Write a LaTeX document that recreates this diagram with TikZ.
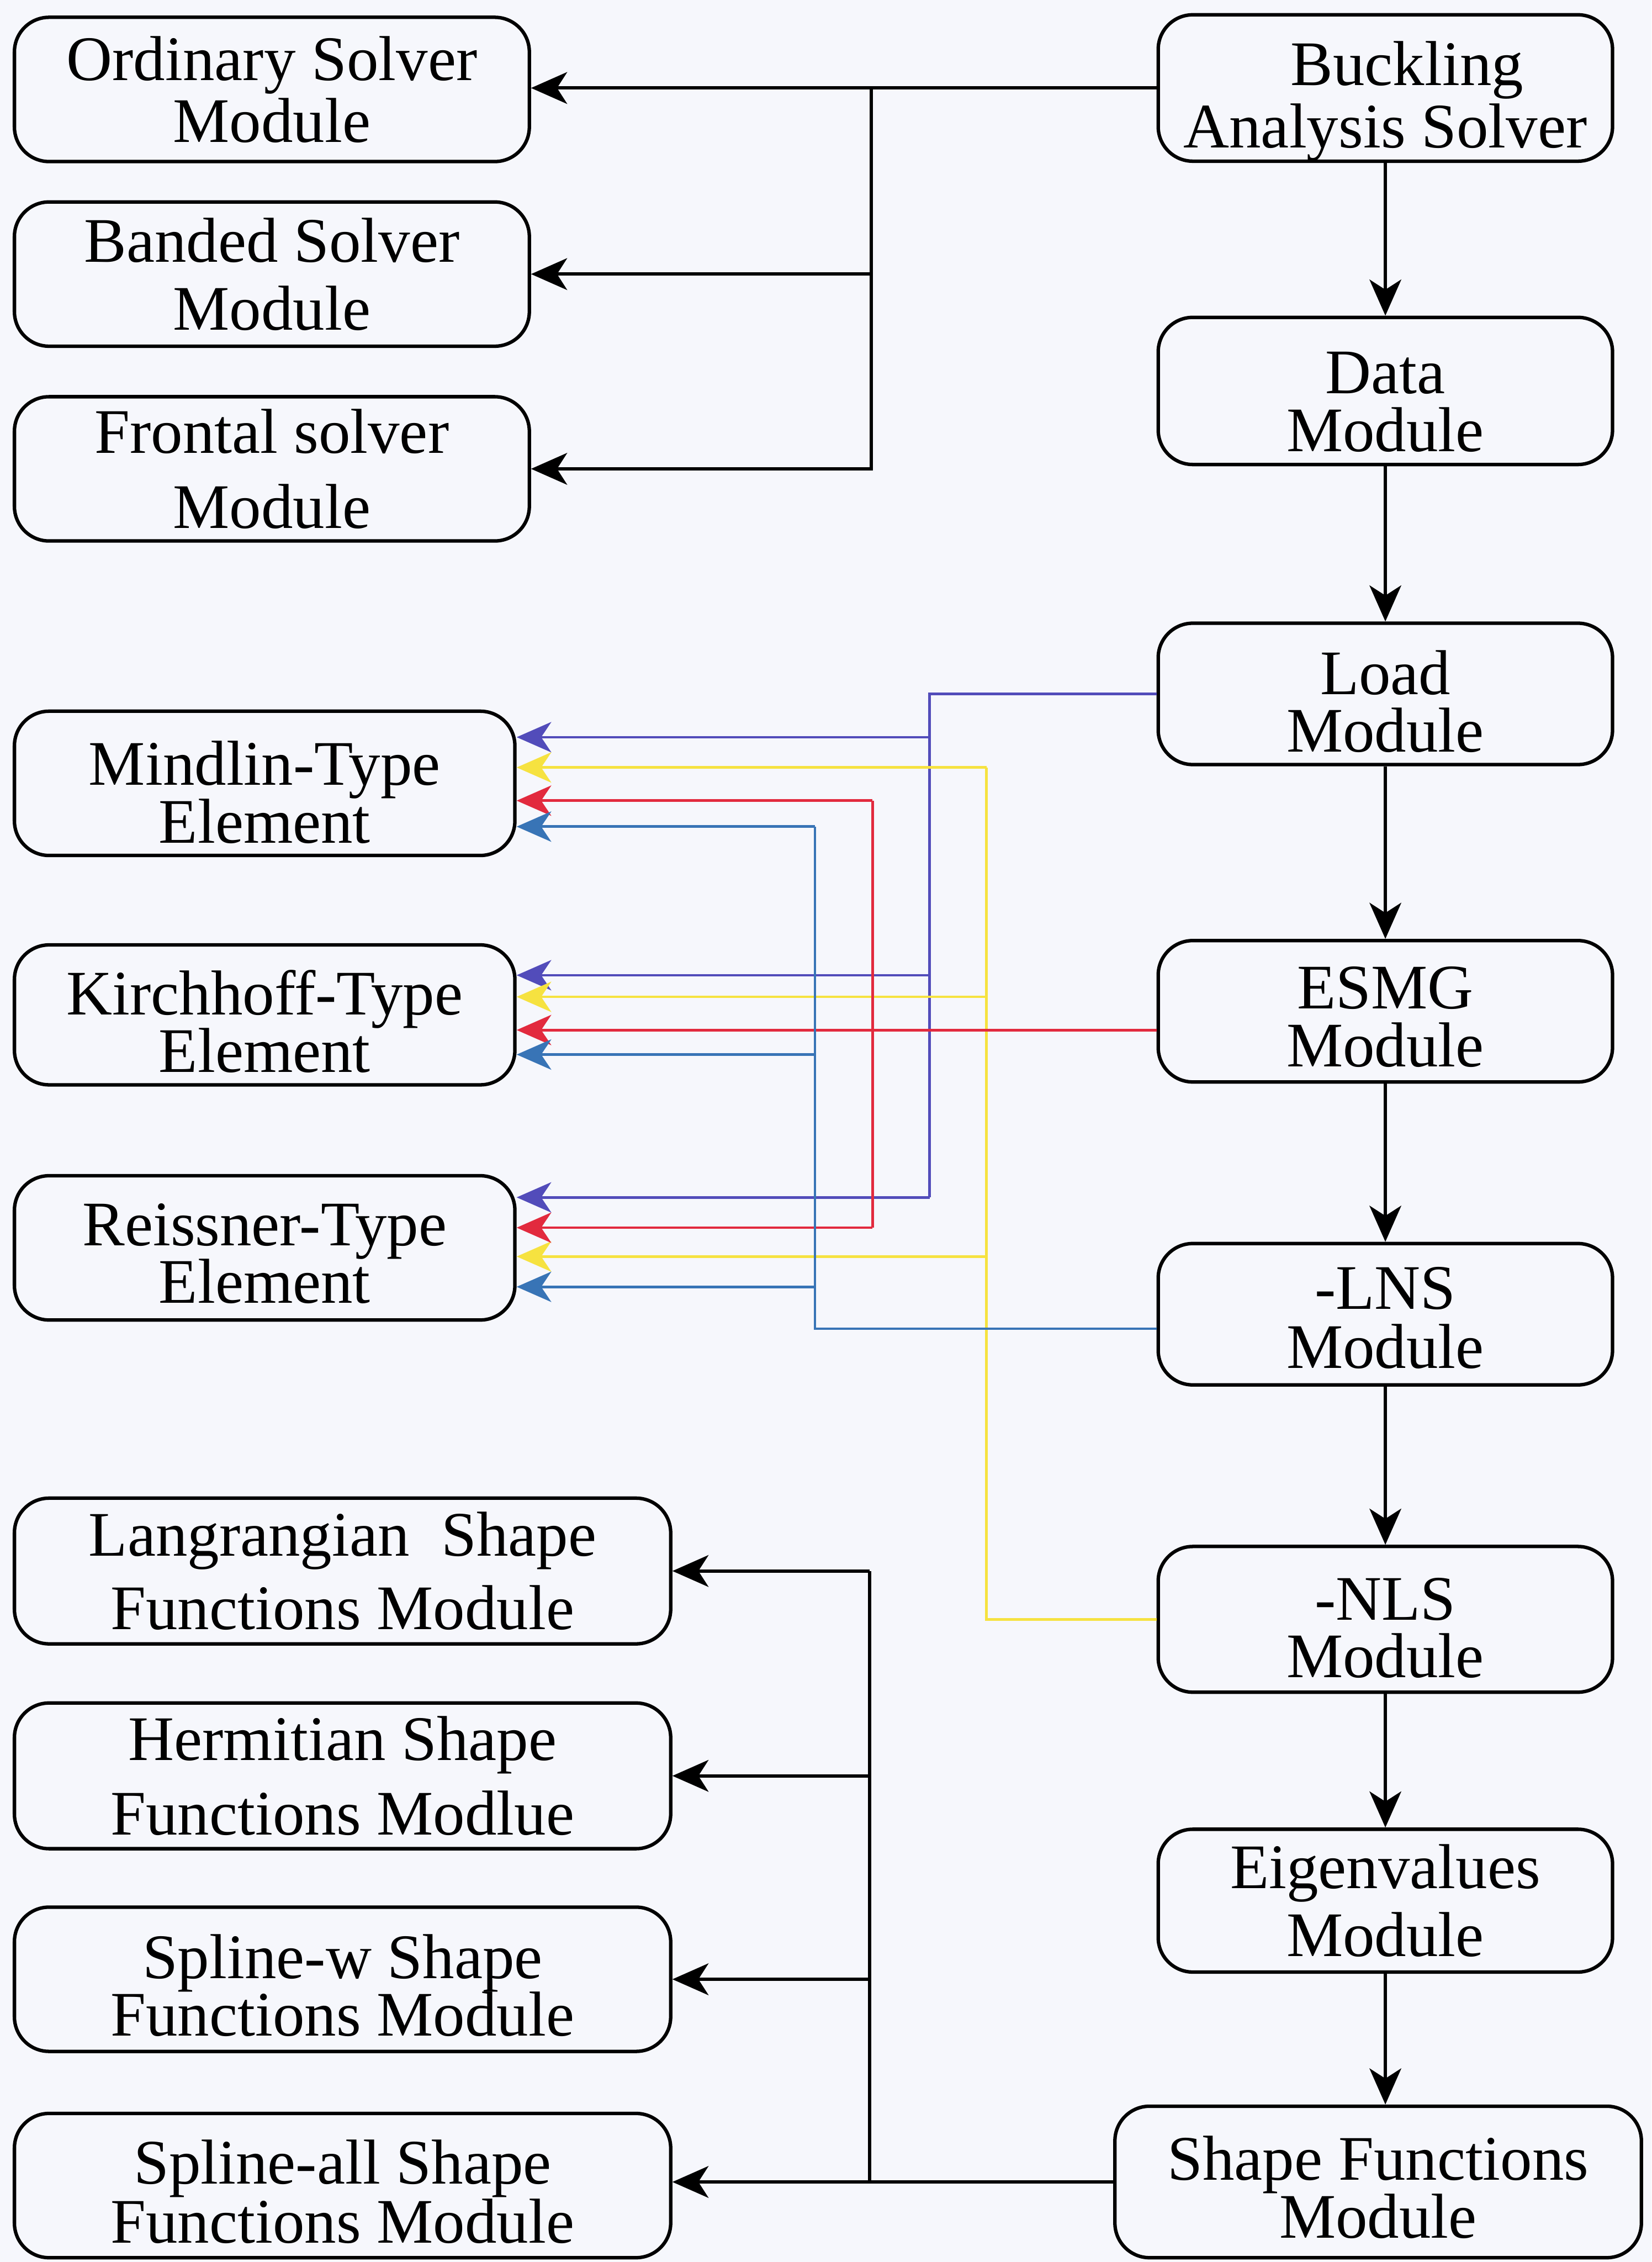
\documentclass[tikz,border=0pt]{standalone}
\usepackage{fontspec}
\setmainfont{Liberation Serif}
\usetikzlibrary{arrows.meta,calc}
\definecolor{bg}{RGB}{246,247,252}
\definecolor{cvio}{RGB}{82,76,186}
\definecolor{cyel}{RGB}{246,226,64}
\definecolor{cred}{RGB}{226,42,62}
\definecolor{cstl}{RGB}{56,116,182}
\begin{document}
\begin{tikzpicture}[x=1pt,y=-1pt,
  box/.style={draw, rounded corners=24pt, line width=2.4pt, inner sep=0pt, align=center,
    font=\fontsize{44}{43}\selectfont},
  lbox/.style={box, minimum width=357pt, minimum height=100pt},
  ebox/.style={box, minimum width=347pt, minimum height=100pt},
  sbox/.style={box, minimum width=455pt, minimum height=101pt},
  rbox/.style={box, minimum width=315pt, minimum height=99pt},
  tip/.style={-{Stealth[length=25pt,width=22pt,inset=7pt]}},
  conn/.style={line width=2.2pt, black},
  carr/.style={conn, tip},
  col/.style={line width=1.8pt, draw=#1, -{Stealth[length=24pt,width=21pt,inset=7pt,fill=#1]}},
  colline/.style={line width=1.8pt, draw=#1}
]
\fill[bg] (0,0) rectangle (1145,1568);
\useasboundingbox (0,0) rectangle (1145,1568);

% left column
\node[lbox] (ord)   at (188.5,62)  {Ordinary Solver\\Module};
\node[lbox] (band)  at (188.5,190) {Banded Solver\\[4pt]Module};
\node[lbox] (front) at (188.5,325) {Frontal solver\\[9pt]Module};
\node[ebox, text height=83pt] (mind)  at (183.5,543) {Mindlin-Type\\[-3pt]Element};
\node[ebox, minimum height=97pt, text height=80pt] (kir) at (183.5,703.5) {Kirchhoff-Type\\[-3pt]Element};
\node[ebox, text height=77pt] (reis)  at (183.5,865) {Reissner-Type\\[-3pt]Element};
\node[sbox] (lang)  at (237.5,1089) {Langrangian\ \ Shape\\[8pt]Functions Module};
\node[sbox] (herm)  at (237.5,1231) {Hermitian Shape\\[9pt]Functions Modlue};
\node[sbox, minimum height=100pt, text height=79pt] (splw) at (237.5,1372) {Spline-w Shape\\[-3pt]Functions Module};
\node[sbox, minimum height=100pt, text height=80pt] (spla) at (237.5,1515) {Spline-all Shape\\[-2pt]Functions Module};

% right column
\node[rbox, minimum height=98pt, text height=92pt] (buck) at (960.5,61) {\hspace*{30pt}Buckling\\Analysis Solver};
\node[rbox, minimum height=102pt, text height=84pt] (data) at (960.5,271) {Data\\[-3pt]Module};
\node[rbox, minimum height=98pt, text height=81pt] (load) at (960.5,481) {Load\\[-3pt]Module};
\node[rbox, minimum height=98pt, text height=77pt] (esmg) at (960.5,701) {ESMG\\[-3pt]Module};
\node[rbox, minimum height=98pt, text height=75pt] (lns)  at (960.5,911) {-LNS\\[-2pt]Module};
\node[rbox, minimum height=101pt, text height=81pt] (nls) at (960.5,1122.5) {-NLS\\[-3pt]Module};
\node[rbox] (eig)  at (960.5,1317.5) {Eigenvalues\\[4pt]Module};
\node[box, minimum width=365pt, minimum height=105pt, text height=78pt] (shp) at (955.5,1512.5) {Shape Functions\\[-3pt]Module};

% main chain
\draw[carr] (buck) -- (data);
\draw[carr] (data) -- (load);
\draw[carr] (load) -- (esmg);
\draw[carr] (esmg) -- (lns);
\draw[carr] (lns) -- (nls);
\draw[carr] (nls) -- (eig);
\draw[carr] (eig.south) -- (eig.south |- shp.north);

% solver branch
\coordinate (jS) at (604,0);
\draw[carr] (buck.west) -| (jS |- front.east) -- (front.east);
\draw[carr] (jS |- buck.west) -- (buck.west -| ord.east);
\draw[carr] (jS |- band.east) -- (band.east);

% shape function branch
\coordinate (jF) at (603,0);
\draw[carr] (shp.west) -- (shp.west -| spla.east);
\draw[conn] (jF |- shp.west) -- (jF |- lang.east);
\draw[carr] (jF |- lang.east) -- (lang.east);
\draw[carr] (jF |- herm.east) -- (herm.east);
\draw[carr] (jF |- splw.east) -- (splw.east);

% target points on element boxes
\coordinate (mV) at ($(mind.east)+(0,-32)$);
\coordinate (mY) at ($(mind.east)+(0,-11)$);
\coordinate (mR) at ($(mind.east)+(0,12)$);
\coordinate (mB) at ($(mind.east)+(0,30)$);
\coordinate (kV) at ($(kir.east)+(0,-27.5)$);
\coordinate (kY) at ($(kir.east)+(0,-12.5)$);
\coordinate (kB) at ($(kir.east)+(0,27.5)$);
\coordinate (rV) at ($(reis.east)+(0,-35)$);
\coordinate (rR) at ($(reis.east)+(0,-14)$);
\coordinate (rY) at ($(reis.east)+(0,6)$);
\coordinate (rB) at ($(reis.east)+(0,27)$);
% source points on module boxes
\coordinate (eR) at ($(esmg.west)+(0,13)$);
\coordinate (lB) at ($(lns.west)+(0,10)$);

% column x positions
\coordinate (cV) at (644.5,0);
\coordinate (cY) at (684,0);
\coordinate (cR) at (605,0);
\coordinate (cB) at (565,0);

% Load (violet)
\draw[colline=cvio] (load.west) -| (cV |- rV);
\draw[col=cvio] (cV |- mV) -- (mV);
\draw[col=cvio] (cV |- kV) -- (kV);
\draw[col=cvio] (cV |- rV) -- (rV);

% NLS (yellow)
\draw[colline=cyel] (nls.west) -| (cY |- mY);
\draw[col=cyel] (cY |- mY) -- (mY);
\draw[col=cyel] (cY |- kY) -- (kY);
\draw[col=cyel] (cY |- rY) -- (rY);

% ESMG (red)
\draw[col=cred] (eR) -- (eR -| kir.east);
\draw[colline=cred] (cR |- mR) -- (cR |- rR);
\draw[col=cred] (cR |- mR) -- (mR);
\draw[col=cred] (cR |- rR) -- (rR);

% LNS (steel blue)
\draw[colline=cstl] (lB) -| (cB |- mB);
\draw[col=cstl] (cB |- mB) -- (mB);
\draw[col=cstl] (cB |- kB) -- (kB);
\draw[col=cstl] (cB |- rB) -- (rB);
\end{tikzpicture}
\end{document}
